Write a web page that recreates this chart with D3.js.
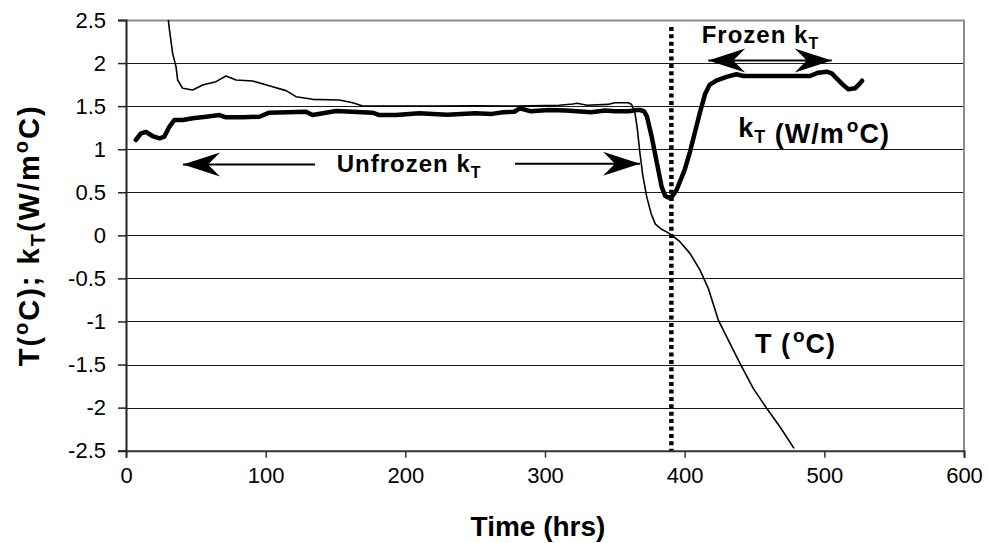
<!DOCTYPE html>
<html><head><meta charset="utf-8">
<script src="https://cdn.jsdelivr.net/npm/d3@7"></script>
<style>
body{margin:0;background:#fff;}
svg text{font-family:"Liberation Sans",Arial,sans-serif;fill:#000;}
</style></head>
<body><svg id="c" width="989" height="543"></svg>
<script>
// ---- data ----
const xTicks = [0,100,200,300,400,500,600];
const yTicks = [-2.5,-2,-1.5,-1,-0.5,0,0.5,1,1.5,2,2.5];
const yTickLabels = ["-2.5","-2","-1.5","-1","-0.5","0","0.5","1","1.5","2","2.5"];

const kT_time = [7,10.7,14.3,19,24,27.4,31,34.6,40.6,47.7,57.3,66.8,71.6,83.5,95.5,102.6,128.9,133.6,150.4,176.6,181.4,193.3,210,230,250,262,270,278,282,290,303,315,323,333,343,350,360,365.6,368,371,373,376.4,380,383.5,386,388,391,394.3,397,400,403.8,407.4,411,414.6,418,423,430,437,442,489.7,495.7,501.7,505.3,508.8,513.6,517.2,522,525.5,527];
const kT_value = [1.107,1.184,1.2,1.153,1.127,1.145,1.26,1.339,1.34,1.359,1.377,1.397,1.37,1.37,1.377,1.424,1.435,1.397,1.443,1.424,1.397,1.397,1.417,1.4,1.417,1.41,1.43,1.435,1.475,1.44,1.455,1.45,1.44,1.43,1.45,1.44,1.44,1.455,1.455,1.44,1.38,1.145,0.85,0.565,0.46,0.44,0.45,0.53,0.64,0.76,0.97,1.2,1.43,1.64,1.75,1.8,1.84,1.87,1.85,1.85,1.888,1.9,1.88,1.823,1.745,1.695,1.707,1.765,1.795];

const T_time = [30.3,31,33.4,35.8,37,40.6,47.7,54.9,64.4,71.6,78.8,90.7,105,114.6,121.7,133.6,152.7,162.3,169.5,191,220,250,280,310,320,323,330,345,350,359.6,362,364.4,366,368,370,372.8,376,379,383.5,387,390.7,396.6,403.8,411,416.9,424.1,432.4,439.6,449.1,458.7,468.2,478.3];
const T_value = [2.5,2.4,2.113,1.958,1.803,1.707,1.687,1.745,1.784,1.85,1.803,1.792,1.726,1.68,1.61,1.579,1.571,1.54,1.502,1.5,1.5,1.505,1.5,1.51,1.525,1.533,1.51,1.52,1.54,1.54,1.52,1.42,1.25,0.95,0.7,0.45,0.25,0.13,0.07,0.04,0.004,-0.074,-0.209,-0.403,-0.615,-0.983,-1.254,-1.486,-1.776,-2.008,-2.222,-2.473];

const freezeTime = 390.5;
// annotation arrows: [t1, t2, value]
const unfrozenLeft = [135.3, 40.8, 0.822];
const unfrozenRight = [278.5, 368, 0.83];
const frozenArrow = [416.9, 505.3, 2.03];
// annotation labels
const labels = [
  {pre:"Unfrozen k", sub:"T", t:150.9, v:0.732, size:24, subSize:16},
  {pre:"Frozen k", sub:"T", t:412.2, v:2.236, size:24, subSize:16},
  {pre:"k", sub:"T", post:" (W/m", sup:"o", post2:"C)", t:438.4, v:1.142, size:27, subSize:18},
  {pre:"T (", sup:"o", post2:"C)", t:450.3, v:-1.366, size:27, subSize:18}
];

// ---- chart ----
const svg = d3.select("#c");
const L=126, R=964, T=20, B=450.7;
const x = d3.scaleLinear().domain([0,600]).range([L,R]);
const y = d3.scaleLinear().domain([-2.5,2.5]).range([B,T]);

// gridlines
svg.append("g").selectAll("line").data(yTicks.filter(d=>d>-2.5&&d<2.5)).join("line")
  .attr("x1",L).attr("x2",R).attr("y1",d=>Math.round(y(d))+0.5).attr("y2",d=>Math.round(y(d))+0.5)
  .attr("stroke","#1a1a1a").attr("stroke-width",1);
// border top/right
svg.append("path").attr("d",`M${L},${T+0.5}H${R}V${B}`).attr("fill","none").attr("stroke","#8c8c8c").attr("stroke-width",2);

// axes
const xAxis = d3.axisBottom(x).tickValues(xTicks).tickSize(7).tickPadding(10).tickFormat(d3.format("d"));
const gx = svg.append("g").attr("transform",`translate(0,${B})`).call(xAxis);
gx.select(".domain").attr("stroke","#333").attr("stroke-width",2);
gx.selectAll(".tick line").attr("stroke","#333").attr("stroke-width",1.5);
gx.selectAll("text").attr("font-size",22).attr("font-family","Liberation Sans, Arial, sans-serif").attr("fill","#000");

const yAxis = d3.axisLeft(y).tickValues(yTicks).tickSize(8).tickPadding(12).tickFormat((d,i)=>yTickLabels[i]);
const gy = svg.append("g").attr("transform",`translate(${L},0)`).call(yAxis);
gy.select(".domain").attr("stroke","#222").attr("stroke-width",2);
gy.selectAll(".tick line").attr("stroke","#222").attr("stroke-width",1.5);
gy.selectAll("text").attr("font-size",22).attr("font-family","Liberation Sans, Arial, sans-serif").attr("fill","#000");

// clip
svg.append("clipPath").attr("id","clip").append("rect").attr("x",L).attr("y",T).attr("width",R-L).attr("height",B-T);

const line = d3.line().x(d=>x(d[0])).y(d=>y(d[1]));
const tData = T_time.map((t,i)=>[t,T_value[i]]);
const kData = kT_time.map((t,i)=>[t,kT_value[i]]);

svg.append("path").datum(tData).attr("clip-path","url(#clip)").attr("d",line)
  .attr("fill","none").attr("stroke","#000").attr("stroke-width",1.6).attr("stroke-linejoin","round");
svg.append("path").datum(kData).attr("clip-path","url(#clip)").attr("d",line)
  .attr("fill","none").attr("stroke","#000").attr("stroke-width",4.5).attr("stroke-linejoin","round").attr("stroke-linecap","round");

// freeze dotted line
svg.append("line").attr("x1",x(freezeTime)).attr("x2",x(freezeTime)).attr("y1",y(2.42)).attr("y2",B)
  .attr("stroke","#000").attr("stroke-width",4.5).attr("stroke-dasharray","4,3.4");

// arrowhead marker
const defs = svg.append("defs");
defs.append("marker").attr("id","ah").attr("viewBox","-40 -14 42 28").attr("refX",0).attr("refY",0)
  .attr("markerWidth",42).attr("markerHeight",28).attr("markerUnits","userSpaceOnUse").attr("orient","auto")
  .append("path").attr("d","M0,0 L-37,-12 L-25,0 L-37,12 Z").attr("fill","#000");

function arrow(a, b, v){
  svg.append("line").attr("x1",x(a)).attr("x2",x(b)).attr("y1",y(v)).attr("y2",y(v))
    .attr("stroke","#000").attr("stroke-width",2).attr("marker-end","url(#ah)");
}
arrow(unfrozenLeft[0], unfrozenLeft[1], unfrozenLeft[2]);
arrow(unfrozenRight[0], unfrozenRight[1], unfrozenRight[2]);
const fm = (frozenArrow[0]+frozenArrow[1])/2;
arrow(fm, frozenArrow[0], frozenArrow[2]);
arrow(fm, frozenArrow[1], frozenArrow[2]);

// labels
labels.forEach(l=>{
  const t = svg.append("text").attr("x",x(l.t)).attr("y",y(l.v)).attr("font-size",l.size).attr("font-weight","bold").attr("letter-spacing",1);
  t.append("tspan").text(l.pre);
  if(l.sub){ t.append("tspan").attr("font-size",l.subSize).attr("dy",6).text(l.sub); t.append("tspan").attr("dy",-6).text(""); }
  if(l.post) t.append("tspan").text(l.post);
  if(l.sup){ t.append("tspan").attr("font-size",l.subSize+1).attr("dy",-11).attr("dx",2).text(l.sup); t.append("tspan").attr("dy",11).text(l.post2); }
});

// axis titles
svg.append("text").attr("x",(L+R)/2-7).attr("y",536).attr("text-anchor","middle").attr("font-size",28).attr("font-weight","bold").text("Time (hrs)");
const yt = svg.append("text").attr("transform",`translate(39,${(T+B)/2}) rotate(-90)`).attr("text-anchor","middle").attr("font-size",29).attr("font-weight","bold").attr("letter-spacing",2);
yt.append("tspan").text("T(");
yt.append("tspan").attr("font-size",20).attr("dy",-11).text("o");
yt.append("tspan").attr("dy",11).text("C); k");
yt.append("tspan").attr("font-size",20).attr("dy",6).text("T");
yt.append("tspan").attr("dy",-6).text("(W/m");
yt.append("tspan").attr("font-size",20).attr("dy",-11).text("o");
yt.append("tspan").attr("dy",11).text("C)");
</script></body></html>
